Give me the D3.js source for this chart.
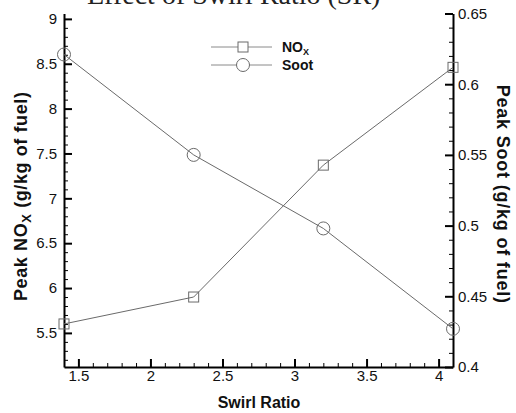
<!DOCTYPE html>
<html>
<head>
<meta charset="utf-8">
<script src="https://cdn.jsdelivr.net/npm/d3@7"></script>
<style>
  body { margin: 0; background: #fff; }
  svg { display: block; font-family: "Liberation Sans", Arial, sans-serif; }
</style>
</head>
<body>
<div id="chart"></div>
<script>
// Data
const swirlRatio = [1.4, 2.3, 3.2, 4.1];
const noxValues = [5.6, 5.9, 7.37, 8.46];
const sootValues = [0.621, 0.55, 0.498, 0.427];

const xTicks = [1.5, 2, 2.5, 3, 3.5, 4];
const noxTicks = [5.5, 6, 6.5, 7, 7.5, 8, 8.5, 9];
const sootTicks = [0.4, 0.45, 0.5, 0.55, 0.6, 0.65];

const width = 516, height = 413;
const plot = { left: 64, right: 453, top: 13.5, bottom: 367 };

const svg = d3.select("#chart").append("svg")
  .attr("width", width)
  .attr("height", height);

// Scales
const x = d3.scaleLinear().domain([1.4, 4.1]).range([plot.left, plot.right]);
const yNox = d3.scaleLinear().domain([5.12, 9.06]).range([plot.bottom, plot.top]);
const ySoot = d3.scaleLinear().domain([0.4, 0.65]).range([plot.bottom, plot.top]);

// Title, cut off by the top edge in the original
svg.append("text")
  .attr("x", 87)
  .attr("y", 4)
  .attr("font-family", "'Liberation Serif', 'Times New Roman', serif")
  .attr("font-size", 28)
  .attr("fill", "#222")
  .text("Effect of Swirl Ratio (SR)");

// Minor ticks helper: values every step inside the domain, excluding majors
function minorValues(domain, step, majors) {
  const vals = [];
  const start = Math.ceil(domain[0] / step - 1e-9);
  const end = Math.floor(domain[1] / step + 1e-9);
  for (let i = start; i <= end; i++) {
    const v = +(i * step).toFixed(4);
    if (!majors.some((m) => Math.abs(m - v) < 1e-6)) vals.push(v);
  }
  return vals;
}

function styleAxis(g) {
  g.select(".domain").attr("stroke", "#000").attr("stroke-width", 2);
  g.selectAll(".tick line").attr("stroke", "#000").attr("stroke-width", 2);
  g.selectAll(".tick text")
    .attr("font-size", 15)
    .attr("fill", "#111")
    .attr("font-family", "'Liberation Sans', Arial, sans-serif");
}

function styleMinor(g) {
  g.select(".domain").remove();
  g.selectAll(".tick line").attr("stroke", "#000").attr("stroke-width", 1);
}

// Bottom axis
svg.append("g").attr("transform", `translate(0,${plot.bottom})`)
  .call(d3.axisBottom(x).tickValues(minorValues(x.domain(), 0.1, xTicks))
    .tickSize(-4).tickFormat(""))
  .call(styleMinor);

svg.append("g").attr("transform", `translate(0,${plot.bottom})`)
  .call(d3.axisBottom(x).tickValues(xTicks).tickSizeInner(-8).tickSizeOuter(0).tickPadding(3)
    .tickFormat(d3.format("")))
  .call(styleAxis);

// Left axis (NOx)
svg.append("g").attr("transform", `translate(${plot.left},0)`)
  .call(d3.axisLeft(yNox).tickValues(minorValues(yNox.domain(), 0.1, noxTicks))
    .tickSize(-4).tickFormat(""))
  .call(styleMinor);

svg.append("g").attr("transform", `translate(${plot.left},0)`)
  .call(d3.axisLeft(yNox).tickValues(noxTicks).tickSizeInner(-8).tickSizeOuter(0).tickPadding(7)
    .tickFormat(d3.format("")))
  .call(styleAxis);

// Right axis (Soot)
svg.append("g").attr("transform", `translate(${plot.right},0)`)
  .call(d3.axisRight(ySoot).tickValues(minorValues(ySoot.domain(), 0.01, sootTicks))
    .tickSize(-4).tickFormat(""))
  .call(styleMinor);

svg.append("g").attr("transform", `translate(${plot.right},0)`)
  .call(d3.axisRight(ySoot).tickValues(sootTicks).tickSizeInner(-8).tickSizeOuter(0).tickPadding(5)
    .tickFormat(d3.format("")))
  .call(styleAxis);

// Axis titles
const leftTitle = svg.append("text")
  .attr("transform", `translate(27,${(plot.top + plot.bottom) / 2 + 6}) rotate(-90)`)
  .attr("text-anchor", "middle")
  .attr("font-size", 18)
  .attr("font-weight", "bold")
  .attr("letter-spacing", 0.6)
  .attr("fill", "#111");
leftTitle.append("tspan").text("Peak NO");
leftTitle.append("tspan").attr("font-size", 13).attr("dy", 4).text("X");
leftTitle.append("tspan").attr("dy", -4).text(" (g/kg of fuel)");

svg.append("text")
  .attr("transform", `translate(497,${(plot.top + plot.bottom) / 2 + 4}) rotate(90)`)
  .attr("text-anchor", "middle")
  .attr("font-size", 18)
  .attr("font-weight", "bold")
  .attr("letter-spacing", 0.8)
  .attr("fill", "#111")
  .text("Peak Soot (g/kg of fuel)");

svg.append("text")
  .attr("x", 259)
  .attr("y", 408)
  .attr("text-anchor", "middle")
  .attr("font-size", 16)
  .attr("font-weight", "bold")
  .attr("fill", "#111")
  .text("Swirl Ratio");

// Series
const lineColor = "#6a6a6a";
const noxData = swirlRatio.map((s, i) => ({ x: s, y: noxValues[i] }));
const sootData = swirlRatio.map((s, i) => ({ x: s, y: sootValues[i] }));

svg.append("path")
  .datum(noxData)
  .attr("fill", "none")
  .attr("stroke", lineColor)
  .attr("stroke-width", 1)
  .attr("d", d3.line().x((d) => x(d.x)).y((d) => yNox(d.y)));

svg.append("path")
  .datum(sootData)
  .attr("fill", "none")
  .attr("stroke", lineColor)
  .attr("stroke-width", 1)
  .attr("d", d3.line().x((d) => x(d.x)).y((d) => ySoot(d.y)));

const sq = 10;
svg.selectAll(".nox-pt")
  .data(noxData)
  .join("rect")
  .attr("class", "nox-pt")
  .attr("x", (d) => x(d.x) - sq / 2)
  .attr("y", (d) => yNox(d.y) - sq / 2)
  .attr("width", sq)
  .attr("height", sq)
  .attr("fill", "none")
  .attr("stroke", lineColor)
  .attr("stroke-width", 1);

svg.selectAll(".soot-pt")
  .data(sootData)
  .join("circle")
  .attr("class", "soot-pt")
  .attr("cx", (d) => x(d.x))
  .attr("cy", (d) => ySoot(d.y))
  .attr("r", 6.5)
  .attr("fill", "none")
  .attr("stroke", lineColor)
  .attr("stroke-width", 1);

// Legend
const legend = svg.append("g").attr("transform", "translate(211,0)");
const legendColor = "#8a8a8a";
const legendRows = [
  { y: 47, label: "NO", sub: "X", marker: "square" },
  { y: 65, label: "Soot", sub: null, marker: "circle" }
];
legendRows.forEach((row) => {
  legend.append("line")
    .attr("x1", 0).attr("x2", 61)
    .attr("y1", row.y).attr("y2", row.y)
    .attr("stroke", legendColor).attr("stroke-width", 1);
  if (row.marker === "square") {
    legend.append("rect")
      .attr("x", 32 - sq / 2).attr("y", row.y - sq / 2)
      .attr("width", sq).attr("height", sq)
      .attr("fill", "#fff").attr("stroke", lineColor);
  } else {
    legend.append("circle")
      .attr("cx", 32).attr("cy", row.y).attr("r", 6.5)
      .attr("fill", "#fff").attr("stroke", lineColor);
  }
  const t = legend.append("text")
    .attr("x", 71).attr("y", row.y + 5)
    .attr("font-size", 14).attr("font-weight", "bold").attr("fill", "#111");
  t.append("tspan").text(row.label);
  if (row.sub) t.append("tspan").attr("font-size", 9).attr("dy", 3).text(row.sub);
});
</script>
</body>
</html>
